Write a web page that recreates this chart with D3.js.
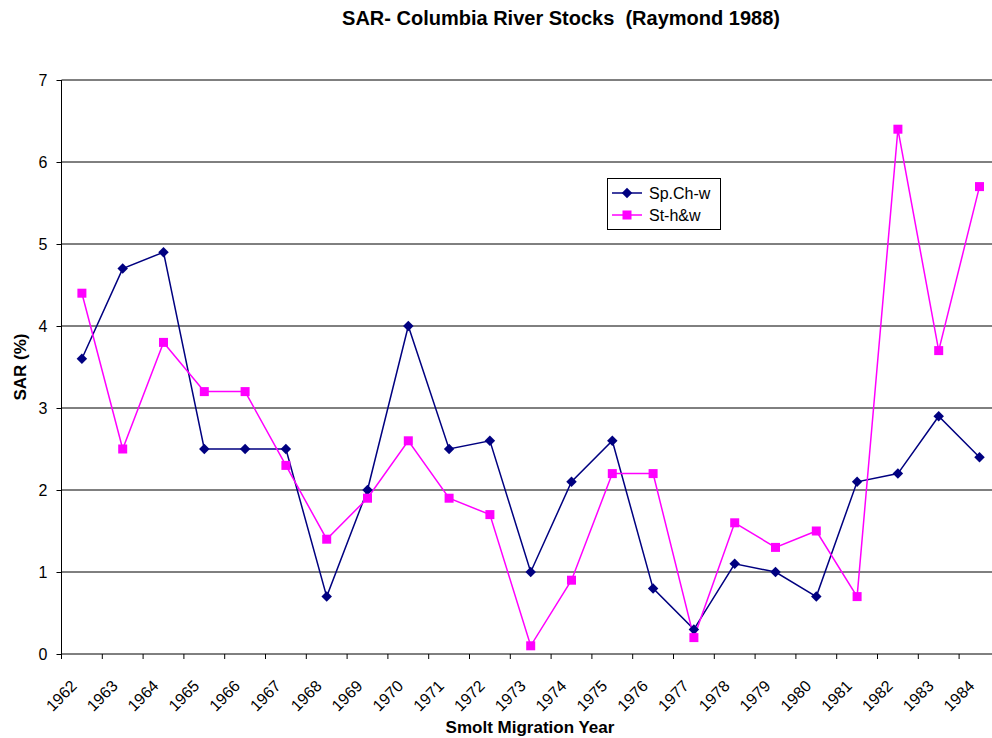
<!DOCTYPE html>
<meta charset="utf-8">
<style>
body { margin: 0; background: #fff; }
svg { display: block; font-family: "Liberation Sans", Arial, sans-serif; }
.grid line { stroke: #000; stroke-width: 1; }
.axis text { font-size: 16px; fill: #000; }
.axis path, .axis line { stroke: #000; }
.title { font-size: 20px; font-weight: bold; white-space: pre; }
.axtitle { font-size: 17px; font-weight: bold; }
.legend text { font-size: 16px; }
</style>
<svg width="992" height="738"></svg>
<script src="https://cdnjs.cloudflare.com/ajax/libs/d3/7.8.5/d3.min.js"></script>
<script>
var years = ["1962","1963","1964","1965","1966","1967","1968","1969","1970","1971","1972","1973",
             "1974","1975","1976","1977","1978","1979","1980","1981","1982","1983","1984"];
var spChW = [3.6,4.7,4.9,2.5,2.5,2.5,0.7,2.0,4.0,2.5,2.6,1.0,2.1,2.6,0.8,0.3,1.1,1.0,0.7,2.1,2.2,2.9,2.4];
var stHW  = [4.4,2.5,3.8,3.2,3.2,2.3,1.4,1.9,2.6,1.9,1.7,0.1,0.9,2.2,2.2,0.2,1.6,1.3,1.5,0.7,6.4,3.7,5.7];
var yTicks = [0,1,2,3,4,5,6,7];

var svg = d3.select("svg");
var plotL = 61.5, plotT = 80, plotB = 654;
var bandW = 40.8;
var plotR = plotL + bandW * years.length;

var x = d3.scaleBand().domain(years).range([plotL, plotR]).padding(0);
var y = d3.scaleLinear().domain([0, 7]).range([plotB, plotT]);

// gridlines
svg.append("g").attr("class", "grid")
  .selectAll("line").data(yTicks.slice(1)).enter().append("line")
    .attr("x1", plotL).attr("x2", plotR)
    .attr("y1", function(d) { return y(d); })
    .attr("y2", function(d) { return y(d); });

// y axis
var yAxis = svg.append("g").attr("class", "axis")
  .attr("transform", "translate(" + plotL + ",0)")
  .call(d3.axisLeft(y).tickValues(yTicks).tickSize(5).tickPadding(9).tickFormat(d3.format("d")));
yAxis.select(".domain").attr("d", "M0," + plotT + "V" + plotB);

// x axis: ticks at band boundaries
var xg = svg.append("g").attr("class", "axis");
xg.append("line").attr("x1", plotL).attr("x2", plotR).attr("y1", plotB).attr("y2", plotB).attr("stroke", "#000");
xg.selectAll(".tk").data(years.concat(["end"])).enter().append("line")
  .attr("class", "tk")
  .attr("x1", function(d, i) { return plotL + i * x.step(); })
  .attr("x2", function(d, i) { return plotL + i * x.step(); })
  .attr("y1", plotB).attr("y2", plotB + 5);
xg.selectAll("text").data(years).enter().append("text")
  .attr("text-anchor", "end")
  .attr("transform", function(d) {
    return "translate(" + (x(d) + x.bandwidth() / 2 - 4) + "," + (plotB + 33) + ") rotate(-45)";
  })
  .text(function(d) { return d; });

// series
var cx = function(d, i) { return x(years[i]) + x.bandwidth() / 2; };
var line = d3.line().x(cx).y(function(d) { return y(d); });

svg.append("path").datum(spChW)
  .attr("d", line).attr("fill", "none").attr("stroke", "#000080").attr("stroke-width", 1.5);
svg.append("path").datum(stHW)
  .attr("d", line).attr("fill", "none").attr("stroke", "#ff00ff").attr("stroke-width", 1.5);

var diamond = d3.symbol().type(d3.symbolDiamond2).size(70);
svg.append("g").selectAll("path").data(spChW).enter().append("path")
  .attr("d", diamond)
  .attr("transform", function(d, i) { return "translate(" + cx(d, i) + "," + y(d) + ")"; })
  .attr("fill", "#000080");

svg.append("g").selectAll("rect").data(stHW).enter().append("rect")
  .attr("x", function(d, i) { return cx(d, i) - 4.5; })
  .attr("y", function(d) { return y(d) - 4.5; })
  .attr("width", 9).attr("height", 9)
  .attr("fill", "#ff00ff");

// legend
var lg = svg.append("g").attr("class", "legend").attr("transform", "translate(607,178)");
lg.append("rect").attr("x", 0.5).attr("y", 0.5).attr("width", 113).attr("height", 51)
  .attr("fill", "#fff").attr("stroke", "#000");
var items = [{name: "Sp.Ch-w", color: "#000080", shape: "d"}, {name: "St-h&w", color: "#ff00ff", shape: "s"}];
items.forEach(function(it, i) {
  var yy = 15 + i * 22;
  lg.append("line").attr("x1", 5).attr("x2", 35).attr("y1", yy).attr("y2", yy)
    .attr("stroke", it.color).attr("stroke-width", 1.5);
  if (it.shape === "d") {
    lg.append("path").attr("d", diamond).attr("transform", "translate(20," + yy + ")").attr("fill", it.color);
  } else {
    lg.append("rect").attr("x", 15.5).attr("y", yy - 4.5).attr("width", 9).attr("height", 9).attr("fill", it.color);
  }
  lg.append("text").attr("x", 42).attr("y", yy + 6).text(it.name);
});

// titles
svg.append("text").attr("class", "title").attr("x", 561).attr("y", 25)
  .attr("text-anchor", "middle").text("SAR- Columbia River Stocks  (Raymond 1988)");
svg.append("text").attr("class", "axtitle").attr("x", 530).attr("y", 733)
  .attr("text-anchor", "middle").text("Smolt Migration Year");
svg.append("text").attr("class", "axtitle")
  .attr("transform", "translate(26,367) rotate(-90)")
  .attr("text-anchor", "middle").text("SAR (%)");
</script>
